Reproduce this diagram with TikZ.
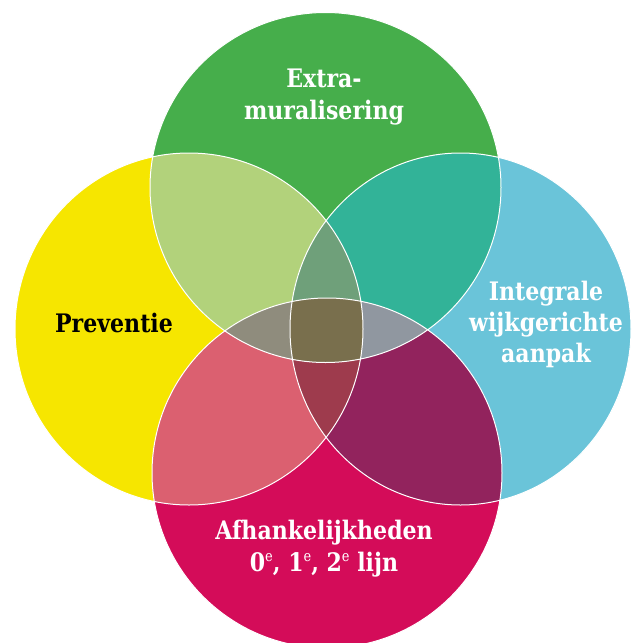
\documentclass[tikz,border=0pt]{standalone}
\usepackage{fontspec}
\setmainfont{DejaVu Serif}[FakeStretch=0.865]
\definecolor{vcg}{HTML}{46AE4B}
\definecolor{vcy}{HTML}{F6E600}
\definecolor{vcb}{HTML}{6AC4D9}
\definecolor{vcm}{HTML}{D40C59}
\definecolor{vcgy}{HTML}{B2D27B}
\definecolor{vcgb}{HTML}{32B398}
\definecolor{vcym}{HTML}{DB6070}
\definecolor{vcbm}{HTML}{92235D}
\definecolor{vltop}{HTML}{6FA07A}
\definecolor{vlleft}{HTML}{8F8C7D}
\definecolor{vlright}{HTML}{9097A0}
\definecolor{vlbot}{HTML}{9E3B4D}
\definecolor{vlcen}{HTML}{796F4D}
\newcommand\ptop{(325.5,187.5) ellipse [x radius=175.5pt, y radius=175pt]}
\newcommand\pleft{(189,329) ellipse [x radius=174pt, y radius=176pt]}
\newcommand\pright{(460.5,329) ellipse [x radius=170.5pt, y radius=176pt]}
\newcommand\pbot{(327,473) ellipse [x radius=175pt, y radius=175pt]}
\newcommand\supe{\raisebox{9.5pt}{\fontsize{15}{15}\selectfont\mdseries e}}
\tikzset{lbl/.style={anchor=base, inner sep=0pt, font=\fontsize{25.5}{30}\selectfont\bfseries, text=white}}
\begin{document}
\begin{tikzpicture}[x=1pt,y=-1pt]
\useasboundingbox (0,0) rectangle (634,643);
\begin{scope}
\clip (0,0) rectangle (634,643);
\fill[vcy] \pleft;
\fill[vcb] \pright;
\fill[vcg] \ptop;
\fill[vcm] \pbot;
\begin{scope}\clip \ptop; \fill[vcgy] \pleft; \fill[vcgb] \pright; \end{scope}
\begin{scope}\clip \pbot; \fill[vcym] \pleft; \fill[vcbm] \pright; \end{scope}
\begin{scope}\clip \pleft; \clip \pright; \fill[vltop] \ptop; \fill[vlbot] \pbot; \end{scope}
\begin{scope}\clip \ptop; \clip \pbot; \fill[vlleft] \pleft; \fill[vlright] \pright; \end{scope}
\begin{scope}\clip \ptop; \clip \pbot; \clip \pleft; \fill[vlcen] \pright; \end{scope}
\draw[white, line width=1pt] \ptop \pleft \pright \pbot;
\end{scope}
\node[lbl] (t1) at (324,87) {Extra-};
\node[lbl] (t2) at (324,119) {muralisering};
\node[lbl, text=black] (l1) at (114,332) {Preventie};
\node[lbl] (r1) at (546,300.5) {Integrale};
\node[lbl] (r2) at (546,331.5) {wijkgerichte};
\node[lbl] (r3) at (546,362) {aanpak};
\node[lbl] (b1) at (324,539) {Afhankelijkheden};
\node[lbl] (b2) at (324,571) {0\supe, 1\supe, 2\supe{} lijn};
\end{tikzpicture}
\end{document}
